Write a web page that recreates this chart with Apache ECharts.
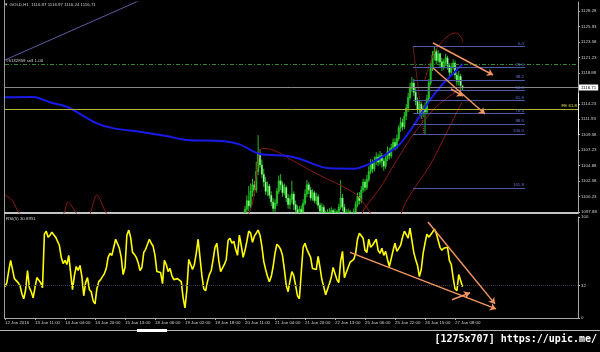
<!DOCTYPE html>
<html><head><meta charset="utf-8">
<script src="https://cdn.jsdelivr.net/npm/echarts@6/dist/echarts.min.js"></script>
<style>html,body{margin:0;padding:0;background:#000}#c{width:600px;height:352px}</style>
</head><body><div id="c"></div>
<script>
const symbolName = 'GOLD,H1';
const lastBar = [1116.97, 1116.97, 1116.24, 1116.71];
const rsiName = 'RSI(5)';
const rsiLast = 30.8951;
const watermark = '[1275x707] https://upic.me/';

const xTickBars = [0,16,32,48,64,80,96,112,128,144,160,176,192,208,224,240];
const xTickLabels = ['12 Jan 2016','13 Jan 11:00','14 Jan 04:00','14 Jan 20:00','15 Jan 13:00','18 Jan 06:00','19 Jan 02:00','19 Jan 18:00','20 Jan 11:00','21 Jan 04:00','21 Jan 20:00','22 Jan 13:00','25 Jan 06:00','25 Jan 22:00','26 Jan 15:00','27 Jan 08:00'];
const priceTicks = [1097.88,1100.23,1102.58,1104.88,1107.23,1109.58,1111.93,1114.23,1118.88,1121.23,1123.58,1125.93,1128.28];
const rsiTicks = [0, 32, 100];

// hourly candles [open, close, low, high], first one is bar 126
const candleStart = 126;
const candles = [
[1095.0,1096.2,1094.5,1096.8],[1096.2,1097.0,1095.8,1097.9],[1097.0,1098.3,1096.5,1098.8],[1098.3,1099.6,1097.8,1100.4],
[1099.6,1098.8,1098.0,1101.8],[1098.8,1101.0,1098.5,1102.2],[1101.0,1102.0,1100.2,1102.9],[1102.0,1101.2,1100.3,1102.6],
[1101.2,1104.0,1100.8,1105.5],[1104.0,1106.8,1103.5,1109.5],[1106.8,1105.0,1104.6,1107.4],[1105.0,1103.6,1103.0,1105.8],
[1103.6,1102.4,1101.7,1104.4],[1102.4,1101.0,1100.5,1103.2],[1101.0,1101.8,1100.3,1102.5],[1101.8,1100.4,1099.9,1102.1],
[1100.4,1099.4,1098.8,1101.0],[1099.4,1098.4,1097.4,1100.0],[1098.4,1099.2,1097.9,1099.8],[1099.2,1101.0,1098.8,1101.5],
[1101.0,1102.6,1100.6,1103.4],[1102.6,1102.0,1101.2,1103.6],[1102.0,1100.8,1100.2,1102.5],[1100.8,1101.6,1100.4,1102.2],
[1101.6,1100.0,1099.4,1101.9],[1100.0,1099.0,1098.4,1100.6],[1099.0,1099.8,1098.3,1100.4],[1099.8,1100.6,1099.2,1102.6],
[1100.6,1099.0,1098.2,1101.0],[1099.0,1098.2,1097.5,1099.6],[1098.2,1097.6,1097.0,1098.9],[1097.6,1098.3,1097.2,1098.8],
[1098.3,1097.9,1097.3,1098.9],[1097.9,1099.2,1097.6,1099.8],[1099.2,1100.6,1098.9,1101.3],[1100.6,1102.0,1100.1,1102.7],
[1102.0,1101.2,1100.6,1102.4],[1101.2,1100.0,1099.6,1101.7],[1100.0,1100.8,1099.6,1101.3],[1100.8,1099.6,1099.2,1101.1],
[1099.6,1100.2,1099.0,1100.8],[1100.2,1098.9,1098.4,1100.6],[1098.9,1098.0,1097.4,1099.3],[1098.0,1098.6,1097.5,1099.2],
[1098.6,1097.8,1097.0,1099.0],[1097.8,1097.2,1096.5,1098.1],[1097.2,1097.8,1096.8,1098.3],[1097.8,1097.4,1096.9,1098.5],
[1097.4,1098.1,1097.0,1098.6],[1098.1,1097.6,1097.1,1098.4],[1097.6,1097.9,1097.0,1098.4],[1097.9,1097.5,1096.8,1098.2],
[1097.5,1098.6,1097.1,1099.1],[1098.6,1100.0,1098.2,1102.7],[1100.0,1098.6,1098.0,1100.6],[1098.6,1097.8,1097.2,1099.1],
[1097.8,1097.4,1096.7,1098.3],[1097.4,1097.9,1097.0,1098.4],[1097.9,1097.3,1096.8,1098.2],[1097.3,1097.0,1096.3,1097.8],
[1097.0,1097.9,1096.6,1098.4],[1097.9,1099.0,1097.5,1099.5],[1099.0,1100.2,1098.6,1100.8],[1100.2,1099.6,1099.0,1100.9],
[1099.6,1101.2,1099.2,1101.8],[1101.2,1102.4,1100.8,1102.9],[1102.4,1101.6,1101.0,1102.8],[1101.6,1102.8,1101.2,1103.5],
[1102.8,1104.0,1102.4,1104.8],[1104.0,1105.2,1103.6,1105.9],[1105.2,1104.4,1103.8,1105.8],[1104.4,1105.6,1104.0,1106.3],
[1105.6,1106.2,1105.0,1106.9],[1106.2,1105.4,1104.8,1106.7],[1105.4,1106.4,1105.0,1107.1],[1106.4,1105.6,1104.6,1106.8],
[1105.6,1104.8,1104.1,1106.0],[1104.8,1106.0,1104.4,1106.6],[1106.0,1107.0,1105.6,1107.8],[1107.0,1106.4,1105.8,1107.6],
[1106.4,1107.6,1106.0,1108.2],[1107.6,1108.4,1107.2,1109.0],[1108.4,1107.8,1107.2,1109.0],[1107.8,1109.0,1107.4,1109.6],
[1109.0,1110.6,1108.6,1111.0],[1110.6,1111.4,1110.0,1112.2],[1111.4,1110.8,1110.2,1112.0],[1110.8,1112.4,1110.4,1113.0],
[1112.4,1113.6,1111.8,1114.2],[1113.6,1115.2,1113.0,1115.9],[1115.2,1116.6,1114.8,1117.4],[1116.6,1117.4,1116.0,1118.3],
[1117.4,1116.0,1115.4,1118.0],[1116.0,1114.6,1114.0,1116.6],[1114.6,1113.4,1112.8,1115.2],[1113.4,1114.2,1112.6,1114.8],
[1114.2,1112.8,1112.0,1114.6],[1112.8,1113.6,1112.2,1114.0],[1113.6,1113.0,1109.67,1114.4],[1113.0,1115.0,1112.6,1115.6],
[1115.0,1117.4,1114.6,1118.0],[1117.4,1119.6,1117.0,1120.4],[1119.6,1121.6,1119.2,1122.2],[1121.6,1122.2,1120.8,1122.88],
[1122.2,1120.8,1120.2,1122.6],[1120.8,1121.8,1120.4,1122.4],[1121.8,1120.6,1119.8,1122.0],[1120.6,1119.8,1119.2,1121.2],
[1119.8,1120.6,1119.4,1121.0],[1120.6,1121.2,1120.0,1121.8],[1121.2,1120.0,1119.4,1121.5],[1120.0,1119.0,1118.4,1120.4],
[1119.0,1119.8,1118.6,1120.4],[1119.8,1120.4,1119.4,1121.0],[1120.4,1118.6,1118.0,1120.8],[1118.6,1117.6,1117.0,1119.0],
[1117.6,1118.4,1117.0,1119.2],[1118.4,1117.0,1116.2,1118.8],[1116.97,1116.71,1116.24,1116.97]
];

// RSI(5), one value per bar from bar 0
const rsiValues = [
31,35,47,57,56,39,38,35,32,24,19,28,47,30,26,20,30,40,40,35,
30,83,86,80,82,85,86,80,76,72,60,54,57,53,62,45,28,42,51,47,
52,41,22,35,40,28,26,17,14,29,36,38,38,44,49,60,64,62,70,78,
79,69,60,43,50,82,87,80,65,63,60,55,47,50,65,68,73,78,74,71,
62,46,45,45,34,57,53,46,49,42,38,39,39,38,36,20,10,28,58,53,
48,53,64,78,60,42,29,27,36,43,47,58,70,74,57,46,47,53,58,77,
79,74,76,68,62,82,72,60,67,76,86,84,75,81,84,87,82,71,56,48,
41,36,41,51,64,73,71,68,62,48,32,26,37,46,42,32,22,19,45,70,
74,68,69,60,49,49,48,61,50,38,31,23,22,34,40,50,49,38,35,56,
66,40,40,50,55,54,58,64,78,84,84,79,67,65,78,70,72,73,78,67,
64,69,62,66,58,51,52,67,74,66,69,72,80,86,85,79,89,90,65,58,
52,41,48,64,74,83,80,80,85,88,84,77,70,67,69,70,70,57,53,40,
29,27,43,42,31
];

// [bar, price] samples of the drawn indicator lines
const maLine = [[0,1115.22],[15,1115.27],[24,1114.47],[33,1113.80],[38,1113.05],[49,1111.29],[58,1110.53],[72,1110.02],[86,1109.37],[97,1108.76],[115,1108.61],[125,1108.11],[136,1106.65],[150,1106.39],[157,1105.94],[173,1104.48],[186,1104.42],[195,1105.24],[204,1106.75],[211,1108.27],[219,1111.4],[226,1114.56],[233,1117.09],[240,1119.10],[244,1120.26]];
const bandUpper = [[0,1100.45],[3.7,1099.7],[8,1097.58],[18.7,1095.46],[31,1097.58],[33.6,1099.39],[38.4,1097.58],[42.7,1096.67],[45.3,1097.58],[49,1100.45],[54.4,1097.58],[64,1095.16],[93,1094.86],[125,1095.92],[131.7,1098.9],[134.5,1104.5],[137,1107.5],[143,1107.26],[155.7,1105.29],[169.6,1103.17],[178.7,1101.96],[187.7,1100.45],[192,1098.94],[196,1097.2]];
const bandLowerA = [[188.3,1096.37],[192,1098.49],[200,1101.51],[208,1105.29],[217.6,1109.53],[229.3,1113.61],[240,1116.03],[243.7,1116.94]];
const bandLowerB = [[209.6,1096.37],[214.4,1099.70],[226.7,1104.99],[235.7,1109.98],[243.7,1114.52]];
const bandPeak = [[224,1117.84],[227.7,1121.17],[232,1123.29],[236.3,1124.50],[240,1124.95],[242.7,1124.50],[244.3,1123.59]];
const trendLine = [[0,1120.87],[75,1130.27]];

const fibStart = 217.6, fibEnd = 277.3;
const fibLevels = ['0.0','23.6','38.2','50.0','61.8','76.4','88.6','100.0','161.8'];
const fibPrices = [1122.88,1119.76,1117.83,1116.28,1114.72,1112.79,1111.18,1109.67,1101.51];
const fibAnchors = [[217.6,1122.88],[223.5,1109.67]];

const sellLevel = 1120.26, sellText = '#6132859 sell 1.00';
const currentPrice = 1116.71;
const feLevel = 1113.45, feText = 'FE 61.8';
const rangeBar = [1115.88, 1109.52];
const rsiLevel = 32;

const priceArrows = [
  [[228.3,1123.44],[260.3,1118.60]],
  [[228.3,1119.66],[256.0,1112.70]],
  [[237.9,1116.48],[244.3,1115.42]]
];
const rsiArrows = [
  [[225.6,95],[261.3,14]],
  [[184.0,65],[261.9,9]],
  [[238.4,18],[248.0,25]]
];

const XMAX = 305.6, PMIN = 1097.73, PMAX = 1129.64;
const FONT = 'Liberation Sans';
const FS = 4.4;
const GRAY = '#a8a8a8', TXT = '#cfcfcf';
const RED = '#8a1818', ARROW = '#f3955f';
const WICK = '#33e633';

const chart = echarts.init(document.getElementById('c'));
const arrowLine = a => [{coord: a[0]}, {coord: a[1]}];

function renderCandle(params, api) {
  const x = api.value(0), o = api.value(1), c = api.value(2), l = api.value(3), h = api.value(4);
  const cs = params.coordSys;
  const rect = {x: cs.x, y: cs.y, width: cs.width, height: cs.height};
  const pO = api.coord([x, o]), pC = api.coord([x, c]);
  const pH = api.coord([x, h]), pL = api.coord([x, l]);
  const bw = 1.4;
  const top = Math.min(pO[1], pC[1]);
  const hgt = Math.max(Math.abs(pO[1] - pC[1]), 0.8);
  const bull = c >= o;
  const children = [];
  const wick = echarts.graphic.clipPointsByRect([[pH[0], pH[1]], [pL[0], pL[1]]], rect);
  if (wick && Math.abs(wick[0][1] - wick[1][1]) > 0.1) {
    children.push({type: 'line', shape: {x1: wick[0][0], y1: wick[0][1], x2: wick[1][0], y2: wick[1][1]},
                   style: {stroke: WICK, lineWidth: 0.8}});
  }
  const body = echarts.graphic.clipRectByRect({x: pO[0] - bw / 2, y: top, width: bw, height: hgt}, rect);
  if (body && body.height > 0.1) {
    children.push({type: 'rect', shape: body, style: {fill: bull ? '#1cb01c' : '#d2ffd2', stroke: WICK, lineWidth: 0.5}});
  }
  return {type: 'group', children: children};
}

chart.setOption({
  backgroundColor: '#000',
  animation: false,
  textStyle: {fontFamily: FONT},
  title: [
    {text: '\u25BC ' + symbolName + '  ' + lastBar.map(v => v.toFixed(2)).join(' '), left: 4, top: 3, padding: 0,
     textStyle: {color: TXT, fontSize: FS, fontWeight: 'normal', fontFamily: FONT}},
    {text: rsiName + ' ' + rsiLast.toFixed(4), left: 6, top: 217, padding: 0,
     textStyle: {color: TXT, fontSize: FS, fontWeight: 'normal', fontFamily: FONT}},
    {text: watermark, right: 3, top: 334, padding: 0,
     textStyle: {color: '#ffffff', fontSize: 10, fontWeight: 'bold', fontFamily: 'DejaVu Sans Mono'}}
  ],
  graphic: [
    {type: 'line', shape: {x1: 4.5, y1: 0, x2: 4.5, y2: 319}, style: {stroke: '#9a9a9a', lineWidth: 1}, silent: true},
    {type: 'line', shape: {x1: 0, y1: 330.5, x2: 600, y2: 330.5}, style: {stroke: '#b4b4b4', lineWidth: 1}, silent: true},
    {type: 'rect', shape: {x: 137, y: 329, width: 30, height: 3}, style: {fill: '#ffffff'}, silent: true}
  ],
  grid: [
    {left: 5, right: 22, top: 2, height: 211},
    {left: 5, right: 22, top: 217, height: 101}
  ],
  xAxis: [
    {type: 'value', gridIndex: 0, min: 0, max: XMAX,
     axisLine: {show: true, onZero: false, lineStyle: {color: '#c4c4c4', width: 2}},
     axisTick: {show: false}, axisLabel: {show: false}, splitLine: {show: false}},
    {type: 'value', gridIndex: 1, min: 0, max: XMAX,
     axisLine: {show: true, onZero: false, lineStyle: {color: GRAY}},
     axisTick: {show: true, length: 2, customValues: xTickBars, lineStyle: {color: GRAY}},
     axisLabel: {show: true, customValues: xTickBars, formatter: v => xTickLabels[xTickBars.indexOf(v)] || '',
                 color: TXT, fontSize: FS, fontFamily: FONT, align: 'left', margin: 3},
     splitLine: {show: false}}
  ],
  yAxis: [
    {type: 'value', gridIndex: 0, position: 'right', min: PMIN, max: PMAX,
     axisLine: {show: true, onZero: false, lineStyle: {color: GRAY}},
     axisTick: {show: true, length: 2, customValues: priceTicks, lineStyle: {color: GRAY}},
     axisLabel: {show: true, customValues: priceTicks, formatter: v => v.toFixed(2), color: TXT, fontSize: FS, fontFamily: FONT, margin: 3},
     splitLine: {show: false}},
    {type: 'value', gridIndex: 1, position: 'right', min: 0, max: 100,
     axisLine: {show: true, onZero: false, lineStyle: {color: GRAY}},
     axisTick: {show: true, length: 2, customValues: rsiTicks, lineStyle: {color: GRAY}},
     axisLabel: {show: true, customValues: rsiTicks, formatter: v => String(v), color: TXT, fontSize: FS, fontFamily: FONT, margin: 3},
     splitLine: {show: false}}
  ],
  series: [
    {type: 'line', name: 'trend', xAxisIndex: 0, yAxisIndex: 0, data: trendLine, showSymbol: false, silent: true,
     lineStyle: {color: '#5c5ca0', width: 1}, clip: true},
    {type: 'line', name: 'bandUpper', xAxisIndex: 0, yAxisIndex: 0, data: bandUpper, showSymbol: false, smooth: 0.3, silent: true,
     lineStyle: {color: RED, width: 1}, clip: true},
    {type: 'line', name: 'bandLowerA', xAxisIndex: 0, yAxisIndex: 0, data: bandLowerA, showSymbol: false, smooth: 0.3, silent: true,
     lineStyle: {color: RED, width: 1}, clip: true},
    {type: 'line', name: 'bandLowerB', xAxisIndex: 0, yAxisIndex: 0, data: bandLowerB, showSymbol: false, smooth: 0.3, silent: true,
     lineStyle: {color: RED, width: 1}, clip: true},
    {type: 'line', name: 'bandPeak', xAxisIndex: 0, yAxisIndex: 0, data: bandPeak, showSymbol: false, smooth: 0.4, silent: true,
     lineStyle: {color: RED, width: 1}, clip: true},
    {type: 'line', name: 'fib', xAxisIndex: 0, yAxisIndex: 0, data: fibAnchors, showSymbol: false, silent: true,
     lineStyle: {color: '#c83a3a', width: 1, type: 'dotted'}, clip: true,
     markLine: {silent: true, symbol: ['none', 'none'], animation: false,
       lineStyle: {color: '#4a5aa6', width: 1, type: 'solid'},
       data: fibPrices.map((p, k) => [
         {coord: [fibStart, p], label: {show: true, position: 'insideEndTop', formatter: fibLevels[k], color: '#5e6fd8', fontSize: FS, distance: 1}},
         {coord: [fibEnd, p]}
       ])}},
    {type: 'custom', name: 'price', xAxisIndex: 0, yAxisIndex: 0,
     data: candles.map((c, k) => [candleStart + k, c[0], c[1], c[2], c[3]]),
     encode: {x: 0, y: [1, 2, 3, 4]}, renderItem: renderCandle, silent: true, clip: true},
    {type: 'line', name: 'ma', xAxisIndex: 0, yAxisIndex: 0, data: maLine, showSymbol: false, smooth: 0.3, silent: true,
     lineStyle: {color: '#1a1ae8', width: 2}, clip: false,
     markLine: {silent: true, symbol: ['none', 'none'], animation: false,
       data: [
         {yAxis: sellLevel, lineStyle: {color: '#2f8a2f', type: [4, 2, 1, 2], width: 1},
          label: {show: true, position: 'insideStartTop', formatter: sellText, color: TXT, fontSize: FS, distance: 1}},
         {yAxis: currentPrice, lineStyle: {color: '#8a8a8a', type: 'solid', width: 1},
          label: {show: true, position: 'end', formatter: currentPrice.toFixed(2), color: '#000', backgroundColor: '#fff', padding: [1, 2], fontSize: FS, distance: 1}},
         {yAxis: feLevel, lineStyle: {color: '#b4b430', type: 'solid', width: 1},
          label: {show: true, position: 'insideEndTop', formatter: feText, color: '#e0e040', fontSize: FS, distance: 1}}
       ]}},
    {type: 'line', name: 'range', xAxisIndex: 0, yAxisIndex: 0, data: [[XMAX + 0.6, rangeBar[0]], [XMAX + 0.6, rangeBar[1]]],
     showSymbol: false, silent: true, clip: false, lineStyle: {color: '#ffffff', width: 2}},
    {type: 'line', name: 'priceArrows', xAxisIndex: 0, yAxisIndex: 0, data: priceArrows.flat(), showSymbol: false, silent: true,
     lineStyle: {opacity: 0}, clip: false,
     markLine: {silent: true, symbol: ['none', 'arrow'], symbolSize: 6, animation: false,
       lineStyle: {color: ARROW, width: 1.5, type: 'solid'}, label: {show: false},
       data: priceArrows.map(arrowLine)}},
    {type: 'line', name: 'rsi', xAxisIndex: 1, yAxisIndex: 1, data: rsiValues.map((v, k) => [k, v]), showSymbol: false, silent: true,
     lineStyle: {color: '#ffff00', width: 1.6}, clip: true,
     markLine: {silent: true, symbol: ['none', 'none'], animation: false, label: {show: false},
       data: [{yAxis: rsiLevel, lineStyle: {color: '#34344e', type: 'dotted', width: 1}}]}},
    {type: 'line', name: 'rsiArrows', xAxisIndex: 1, yAxisIndex: 1, data: rsiArrows.flat(), showSymbol: false, silent: true,
     lineStyle: {opacity: 0}, clip: false,
     markLine: {silent: true, symbol: ['none', 'arrow'], symbolSize: 6, animation: false,
       lineStyle: {color: ARROW, width: 1.5, type: 'solid'}, label: {show: false},
       data: rsiArrows.map(arrowLine)}}
  ]
});
</script>
</body></html>
